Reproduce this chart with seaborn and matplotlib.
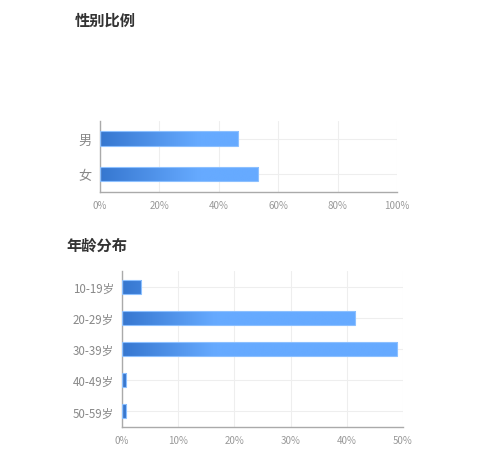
import numpy as np
import pandas as pd
import matplotlib
matplotlib.use("Agg")
import matplotlib.pyplot as plt
from matplotlib.colors import LinearSegmentedColormap
from matplotlib.ticker import FuncFormatter
import seaborn as sns

# 数据
gender = ["男", "女"]
gender_pct = [46.5, 53.2]

ages = ["10-19岁", "20-29岁", "30-39岁", "40-49岁", "50-59岁"]
age_pct = [3.4, 41.5, 49.0, 0.8, 0.8]

sns.set_style("white")
plt.rcParams["font.family"] = ["Noto Sans CJK SC", "DejaVu Sans"]

dark = "#3677d0"
light = "#66aaff"
# 前三分之一渐变, 后面纯色
cmap = LinearSegmentedColormap.from_list("bar", [(0, dark), (0.33, light), (1, light)])


def gradient_bars(ax, xmax):
    grad = np.linspace(0, 1, 256).reshape(1, -1)
    for p in ax.patches:
        x0, y0 = p.get_x(), p.get_y()
        h = p.get_height()
        p.set_facecolor("none")
        p.set_edgecolor("#8cc0ff")
        p.set_linewidth(0.8)
        p.set_zorder(3)
        im = ax.imshow(grad, extent=[0, xmax, y0 + h, y0], aspect="auto",
                       cmap=cmap, zorder=2, interpolation="bicubic")
        im.set_clip_path(p)


def style_axes(ax, xmax, step):
    ax.set_xlim(0, xmax)
    ax.set_xticks(np.arange(0, xmax + 0.1, step))
    ax.xaxis.set_major_formatter(FuncFormatter(lambda v, _: f"{v:.0f}%"))
    ax.grid(True, color="#eeeeee", linewidth=0.8)
    ax.set_axisbelow(True)
    for s in ["top", "right"]:
        ax.spines[s].set_visible(False)
    for s in ["left", "bottom"]:
        ax.spines[s].set_color("#aaaaaa")
        ax.spines[s].set_linewidth(1)
    ax.tick_params(axis="x", length=0, pad=6, labelsize=7, labelcolor="#999999")
    ax.tick_params(axis="y", length=4, width=0.8, color="#aaaaaa", pad=2,
                   labelcolor="#888888")
    ax.set_xlabel("")
    ax.set_ylabel("")


fig = plt.figure(figsize=(5, 4.56), dpi=100)

# 性别比例
ax1 = fig.add_axes([0.2, 0.577, 0.594, 0.156])
df1 = pd.DataFrame({"cat": gender, "pct": gender_pct})
sns.barplot(data=df1, x="pct", y="cat", orient="h", width=0.4, ax=ax1)
style_axes(ax1, 100, 20)
ax1.tick_params(axis="y", labelsize=9.5)
gradient_bars(ax1, 100)
ax1.set_ylim(1.5, -0.5)

# 年龄分布
ax2 = fig.add_axes([0.244, 0.0614, 0.562, 0.342])
df2 = pd.DataFrame({"cat": ages, "pct": age_pct})
sns.barplot(data=df2, x="pct", y="cat", orient="h", width=0.45, ax=ax2)
style_axes(ax2, 50, 10)
ax2.tick_params(axis="y", labelsize=8.3)
gradient_bars(ax2, 50)
ax2.set_ylim(4.5, -0.5)

fig.text(0.15, 0.955, "性别比例", fontsize=11, fontweight="bold", color="#333333", va="center")
fig.text(0.132, 0.46, "年龄分布", fontsize=11, fontweight="bold", color="#333333", va="center")

fig.savefig("out.png", dpi=100)
